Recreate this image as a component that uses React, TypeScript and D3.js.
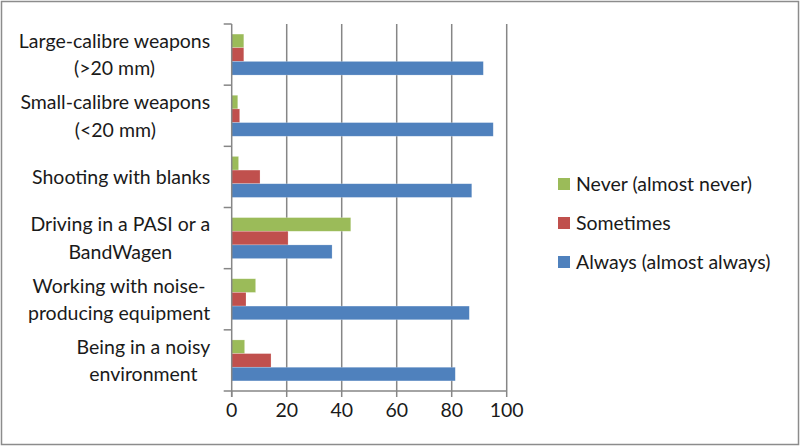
import { useEffect, useRef } from 'react'
import * as d3 from 'd3'

const categories = [
  ['Large-calibre weapons', '(>20 mm)'],
  ['Small-calibre weapons', '(<20 mm)'],
  ['Shooting with blanks'],
  ['Driving in a PASI or a', 'BandWagen'],
  ['Working with noise-', 'producing equipment'],
  ['Being in a noisy', 'environment'],
]
const neverValues = [4.4, 2.2, 2.5, 43.3, 8.7, 4.7]
const sometimesValues = [4.4, 2.9, 10.3, 20.5, 5.2, 14.3]
const alwaysValues = [91.5, 95.1, 87.3, 36.5, 86.4, 81.3]
const xTicks = [0, 20, 40, 60, 80, 100]

const series = [
  { key: 'never', label: 'Never (almost never)', color: '#9BBB59', values: neverValues },
  { key: 'sometimes', label: 'Sometimes', color: '#C0504D', values: sometimesValues },
  { key: 'always', label: 'Always (almost always)', color: '#4F81BD', values: alwaysValues },
]

const FONT = 'Lato, sans-serif'
const FONT_SIZE = 19.5

function App() {
  const svgRef = useRef(null)

  useEffect(() => {
    const width = 800
    const height = 446
    const margin = { left: 231.7, right: 293.3, top: 24, bottom: 55 }
    const chartWidth = width - margin.left - margin.right
    const chartHeight = height - margin.top - margin.bottom

    const svg = d3.select(svgRef.current)
    svg.selectAll('*').remove()

    // outer frame
    svg.append('rect')
      .attr('x', 1.5).attr('y', 1.5)
      .attr('width', width - 3).attr('height', height - 3)
      .attr('fill', '#fff')
      .attr('stroke', '#8c8c8c')
      .attr('stroke-width', 1.5)

    const g = svg.append('g')
      .attr('transform', `translate(${margin.left},${margin.top})`)

    const x = d3.scaleLinear().domain([0, 100]).range([0, chartWidth])
    const y0 = d3.scaleBand()
      .domain(categories.map((d, i) => String(i)))
      .range([0, chartHeight])
      .paddingInner(0.33)
      .paddingOuter(0.165)
    const y1 = d3.scaleBand()
      .domain(series.map(s => s.key))
      .range([0, y0.bandwidth()])

    // grid
    g.append('g')
      .selectAll('line')
      .data(xTicks.slice(1))
      .enter().append('line')
      .attr('x1', d => x(d)).attr('x2', d => x(d))
      .attr('y1', 0).attr('y2', chartHeight)
      .attr('stroke', '#868686')
      .attr('stroke-width', 1.5)

    // bars
    const groups = g.selectAll('.bar-group')
      .data(categories.map((c, i) => i))
      .enter().append('g')
      .attr('transform', i => `translate(0,${y0(String(i))})`)

    series.forEach(s => {
      groups.append('rect')
        .attr('x', 0)
        .attr('y', y1(s.key))
        .attr('width', i => x(s.values[i]))
        .attr('height', y1.bandwidth())
        .attr('fill', s.color)
        .attr('stroke', 'rgba(255,255,255,0.35)')
        .attr('stroke-width', 0.6)
    })

    // y axis
    const step = chartHeight / categories.length
    const yAxis = g.append('g')
    yAxis.append('line')
      .attr('x1', 0).attr('x2', 0).attr('y1', 0).attr('y2', chartHeight + 6)
      .attr('stroke', '#868686').attr('stroke-width', 1.5)
    yAxis.selectAll('.tick')
      .data(d3.range(categories.length + 1))
      .enter().append('line')
      .attr('x1', -8).attr('x2', 0)
      .attr('y1', i => i * step).attr('y2', i => i * step)
      .attr('stroke', '#868686').attr('stroke-width', 1.5)

    // category labels
    categories.forEach((lines, i) => {
      const cy = y0(String(i)) + y0.bandwidth() / 2
      const lh = 27.5
      const text = g.append('text')
        .attr('font-family', FONT)
        .attr('font-size', FONT_SIZE)
        .attr('fill', '#1a1a1a')
      const tspans = lines.map((l, j) => text.append('tspan')
        .attr('y', cy + (j - (lines.length - 1) / 2) * lh + 7)
        .text(l))
      // center lines within a right-aligned block
      const widths = tspans.map(t => t.node().getComputedTextLength())
      const maxW = Math.max(...widths)
      const right = -21.5
      tspans.forEach((t, j) => t.attr('x', right - maxW / 2 - widths[j] / 2))
    })

    // x axis
    const xAxis = g.append('g').attr('transform', `translate(0,${chartHeight})`)
    xAxis.append('line')
      .attr('x1', 0).attr('x2', chartWidth)
      .attr('stroke', '#868686').attr('stroke-width', 1.5)
    xAxis.selectAll('.tick')
      .data(xTicks)
      .enter().append('line')
      .attr('x1', d => x(d)).attr('x2', d => x(d))
      .attr('y1', 0).attr('y2', 6)
      .attr('stroke', '#868686').attr('stroke-width', 1.5)
    xAxis.selectAll('text')
      .data(xTicks)
      .enter().append('text')
      .attr('x', d => x(d))
      .attr('y', 26)
      .attr('text-anchor', 'middle')
      .attr('font-family', FONT)
      .attr('font-size', FONT_SIZE)
      .attr('fill', '#1a1a1a')
      .text(d => d)

    // legend
    const legend = svg.append('g').attr('transform', 'translate(558,184)')
    series.forEach((s, i) => {
      const item = legend.append('g').attr('transform', `translate(0,${i * 39})`)
      item.append('rect')
        .attr('x', 0).attr('y', -6)
        .attr('width', 12).attr('height', 12)
        .attr('fill', s.color)
      item.append('text')
        .attr('x', 18).attr('y', 7)
        .attr('font-family', FONT)
        .attr('font-size', FONT_SIZE)
        .attr('fill', '#1a1a1a')
        .text(s.label)
    })
  }, [])

  return (
    <div style={{ position: 'absolute', left: 0, top: 0 }}>
      <svg ref={svgRef} width={800} height={446} style={{ display: 'block' }}></svg>
    </div>
  )
}

export default App
